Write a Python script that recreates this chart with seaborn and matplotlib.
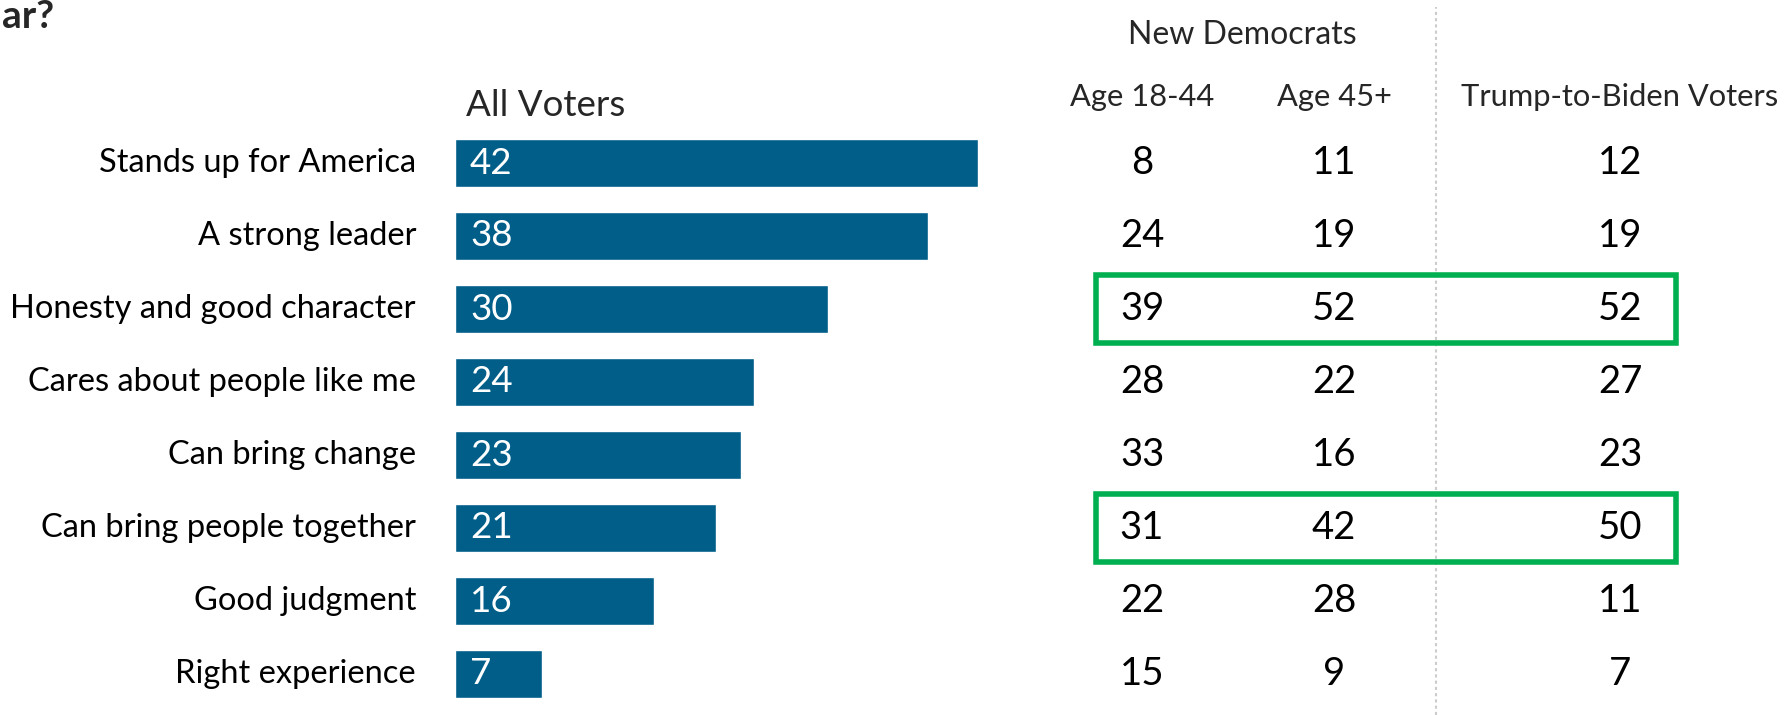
import matplotlib
matplotlib.use("Agg")
import matplotlib.pyplot as plt
import seaborn as sns
import pandas as pd
from matplotlib.patches import Rectangle

# Data
traits = ['Stands up for America', 'A strong leader', 'Honesty and good character',
          'Cares about people like me', 'Can bring change', 'Can bring people together',
          'Good judgment', 'Right experience']
all_voters = [42, 38, 30, 24, 23, 21, 16, 7]
dem_18_44 = [8, 24, 39, 28, 33, 31, 22, 15]
dem_45_plus = [11, 19, 52, 22, 16, 42, 28, 9]
trump_to_biden = [12, 19, 52, 27, 23, 50, 11, 7]
highlight_rows = ['Honesty and good character', 'Can bring people together']

col_headers = ['Age 18-44', 'Age 45+', 'Trump-to-Biden Voters']

df = pd.DataFrame({'trait': traits, 'all': all_voters})

sns.set_style('white')
plt.rcParams['font.family'] = ['Lato', 'DejaVu Sans']

W, H = 1791, 715
fig = plt.figure(figsize=(W / 100, H / 100), dpi=100)
ax = fig.add_axes([0, 0, 1, 1])

bar_color = '#005e89'
sns.barplot(data=df, y='trait', x='all', orient='h', color=bar_color,
            width=0.66, saturation=1, ax=ax)

# pixel layout: bar origin at x=455px, 12.45 px per point, rows 73px apart starting at 163px
px_per_unit = 12.45
x0 = 455
ax.set_xlim(-x0 / px_per_unit, (W - x0) / px_per_unit)
ax.set_ylim((H - 163) / 73, -163 / 73)
ax.axis('off')

label_fs = 23.5
num_fs = 27.5
trans = ax.get_yaxis_transform()  # x in axes fraction, y in data

for i, (t, v) in enumerate(zip(traits, all_voters)):
    ax.text(416 / W, i, t, transform=trans, ha='right', va='center', fontsize=label_fs, color='black')
    ax.text(1.2, i, str(v), ha='left', va='center', fontsize=num_fs - 1, color='white')

col_x = [1142 / W, 1334 / W, 1620 / W]
for i in range(len(traits)):
    for cx, vals in zip(col_x, [dem_18_44, dem_45_plus, trump_to_biden]):
        ax.text(cx, i, str(vals[i]), transform=trans, ha='center', va='center',
                fontsize=num_fs, color='black')

# headers
fig.text(466 / W, 1 - 106 / H, 'All Voters', ha='left', va='center', fontsize=26.5)
for cx, h in zip(col_x, col_headers):
    fig.text(cx, 1 - 97 / H, h, ha='center', va='center', fontsize=22.2)
fig.text(1242 / W, 1 - 35 / H, 'New Democrats', ha='center', va='center', fontsize=23)
fig.text(0.001, 1 - 17 / H, 'ar?', ha='left', va='center', fontsize=28, fontweight='bold')

# dotted separator
ax.plot([1436 / W, 1436 / W], [0, 0.99], transform=ax.transAxes, color='#cccccc',
        lw=1.5, ls=(0, (1.5, 1.5)), zorder=0)

# green highlight boxes
for t in highlight_rows:
    i = traits.index(t)
    ax.add_patch(Rectangle((1096 / W, i - 0.47), (1676 - 1096) / W, 0.94, transform=trans,
                           fill=False, edgecolor='#00b050', lw=4, zorder=3))

fig.savefig('out.png', dpi=100)
